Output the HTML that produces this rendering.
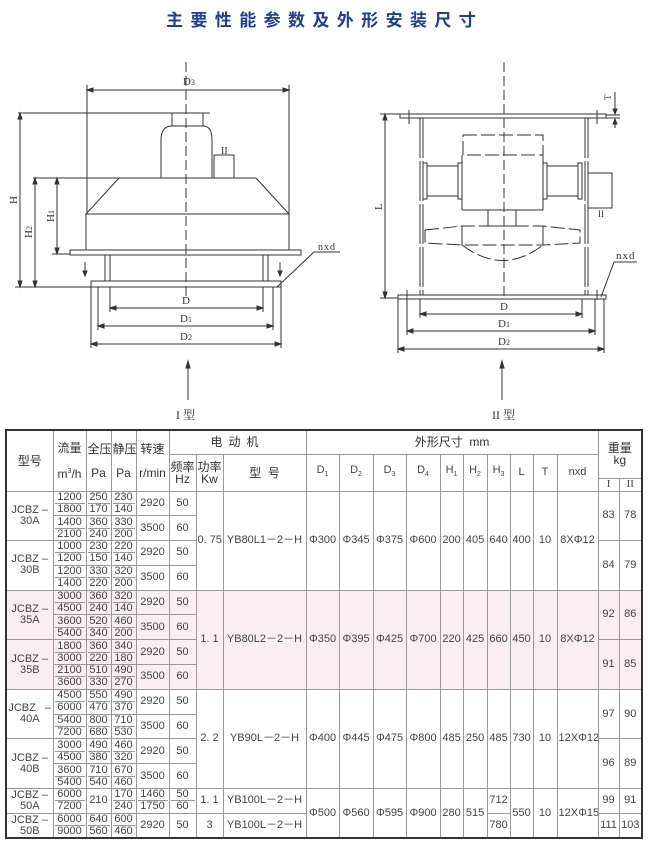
<!DOCTYPE html>
<html><head><meta charset="utf-8"><style>
html,body{margin:0;padding:0;background:#fff;width:650px;height:848px;overflow:hidden;position:relative}
.title{position:absolute;left:166px;top:6px;width:320px;font:bold 17px "Liberation Sans","Noto Sans CJK SC",sans-serif;color:#1f3f8f;letter-spacing:7.4px;white-space:nowrap}
svg{position:absolute;left:0;top:0}
table{position:absolute;left:5px;top:429px;border-collapse:collapse;table-layout:fixed;width:636px;border:2px solid #333;font:11px "Liberation Sans","Noto Sans CJK SC",sans-serif;color:#444}
td{border:1px solid #999;padding:0 1px;text-align:center;vertical-align:middle;line-height:11px;overflow:hidden;white-space:nowrap}
td i{display:block;font-style:normal;border-bottom:1px solid #999;line-height:11px}
tr.d td{height:24.8px;box-sizing:border-box}
.p td{background:#fbeef3}
.h{font-size:12px;color:#333;line-height:12px}
</style></head><body>
<div class="title">主要性能参数及外形安装尺寸</div>
<svg width="650" height="430" viewBox="0 0 650 430" fill="none" stroke="#333" stroke-width="1" font-family="Liberation Serif,serif" font-size="11">
<line x1="186" y1="62" x2="186" y2="300" stroke-dasharray="10,4"/>
<line x1="87" y1="85" x2="87" y2="213"/><line x1="289" y1="85" x2="289" y2="213"/>
<line x1="87" y1="90" x2="289" y2="90"/>
<path d="M87 90l6-2v4zM289 90l-6-2v4z" fill="#333"/>
<text x="183" y="85" fill="#333" stroke="none">D<tspan font-size="8">3</tspan></text>
<line x1="18" y1="113" x2="210" y2="113"/>
<rect x="172" y="113" width="31" height="13"/>
<path d="M161 178V140q0-14 11-14h31q9 0 9 14v38"/>
<rect x="214" y="155" width="20" height="23"/>
<text x="221" y="154" fill="#333" stroke="none" font-size="10">II</text>
<line x1="33" y1="178" x2="256" y2="178"/>
<path d="M119 178L86 214H289L256 178"/>
<line x1="86" y1="214" x2="86" y2="250"/><line x1="289" y1="214" x2="289" y2="250"/>
<rect x="70" y="250" width="231" height="5"/>
<line x1="52" y1="254" x2="70" y2="254"/>
<line x1="105" y1="255" x2="105" y2="281"/><line x1="110" y1="255" x2="110" y2="281"/>
<line x1="263" y1="255" x2="263" y2="281"/><line x1="268" y1="255" x2="268" y2="281"/>
<rect x="91" y="281" width="190" height="6"/>
<line x1="15" y1="287" x2="91" y2="287"/>
<line x1="20" y1="113" x2="20" y2="287"/><path d="M20 113l-2 6h4zM20 287l-2-6h4z" fill="#333"/>
<line x1="35" y1="178" x2="35" y2="287"/><path d="M35 178l-2 6h4zM35 287l-2-6h4z" fill="#333"/>
<line x1="57" y1="178" x2="57" y2="254"/><path d="M57 178l-2 6h4zM57 254l-2-6h4z" fill="#333"/>
<text x="17" y="204" fill="#333" stroke="none" transform="rotate(-90 17 204)">H</text>
<text x="32" y="238" fill="#333" stroke="none" transform="rotate(-90 32 238)">H<tspan font-size="8">2</tspan></text>
<text x="54" y="222" fill="#333" stroke="none" transform="rotate(-90 54 222)">H<tspan font-size="8">1</tspan></text>
<line x1="85" y1="262" x2="85" y2="275"/><path d="M85 276l-2-5h4z" fill="#333"/>
<line x1="280" y1="262" x2="280" y2="275"/><path d="M280 276l-2-5h4z" fill="#333"/>
<line x1="110" y1="287" x2="110" y2="312"/><line x1="263" y1="287" x2="263" y2="312"/>
<line x1="98" y1="287" x2="98" y2="330"/><line x1="273" y1="287" x2="273" y2="330"/>
<line x1="91" y1="287" x2="91" y2="348"/><line x1="281" y1="287" x2="281" y2="348"/>
<line x1="110" y1="308" x2="263" y2="308"/><path d="M110 308l6-2v4zM263 308l-6-2v4z" fill="#333"/>
<line x1="98" y1="326" x2="273" y2="326"/><path d="M98 326l6-2v4zM273 326l-6-2v4z" fill="#333"/>
<line x1="91" y1="344" x2="281" y2="344"/><path d="M91 344l6-2v4zM281 344l-6-2v4z" fill="#333"/>
<text x="182" y="304" fill="#333" stroke="none">D</text>
<text x="180" y="322" fill="#333" stroke="none">D<tspan font-size="8">1</tspan></text>
<text x="180" y="340" fill="#333" stroke="none">D<tspan font-size="8">2</tspan></text>
<text x="318" y="250" fill="#333" stroke="none" font-size="10" letter-spacing="1">nxd</text>
<line x1="314" y1="252" x2="340" y2="252"/><line x1="314" y1="252" x2="277" y2="287"/>
<line x1="188" y1="400" x2="188" y2="363"/><path d="M188 361l-2 7h4z" fill="#333"/>
<text x="176" y="419" fill="#333" stroke="none" font-family="Liberation Serif,Noto Serif CJK SC,serif" font-size="12">I 型</text>
<line x1="504" y1="62" x2="504" y2="300" stroke-dasharray="10,4"/>
<rect x="400" y="114" width="206" height="4"/>
<line x1="380" y1="114" x2="400" y2="114"/>
<line x1="409" y1="110" x2="409" y2="124"/><line x1="597" y1="110" x2="597" y2="124"/>
<line x1="420" y1="118" x2="420" y2="295" stroke-dasharray="40,3"/><line x1="423" y1="118" x2="423" y2="295" stroke-dasharray="40,3"/>
<line x1="585" y1="118" x2="585" y2="295" stroke-dasharray="40,3"/><line x1="588" y1="118" x2="588" y2="295" stroke-dasharray="40,3"/>
<rect x="398" y="295" width="208" height="4"/>
<line x1="380" y1="298" x2="398" y2="298"/>
<line x1="407" y1="290" x2="407" y2="300"/><line x1="597" y1="290" x2="597" y2="300"/>
<line x1="385" y1="114" x2="385" y2="298"/><path d="M385 114l-2 6h4zM385 298l-2-6h4z" fill="#333"/>
<text x="382" y="210" fill="#333" stroke="none" transform="rotate(-90 382 210)">L</text>
<line x1="606" y1="115" x2="620" y2="115"/><line x1="606" y1="118" x2="620" y2="118"/>
<line x1="615" y1="92" x2="615" y2="114"/><path d="M615 114l-2-5h4z" fill="#333"/>
<line x1="615" y1="119" x2="615" y2="128"/><path d="M615 119l-2 5h4z" fill="#333"/>
<text x="605" y="100" fill="#333" stroke="none" font-size="9" transform="rotate(-90 608 97)">T</text>
<rect x="463" y="135" width="80" height="20" stroke-dasharray="14,4"/>
<line x1="462" y1="155" x2="462" y2="210"/><line x1="543" y1="155" x2="543" y2="210"/>
<line x1="462" y1="210" x2="543" y2="210"/>
<rect x="423" y="163" width="4" height="36"/><rect x="458" y="163" width="4" height="36"/>
<line x1="427" y1="166" x2="458" y2="166"/><line x1="427" y1="196" x2="458" y2="196"/>
<rect x="543" y="163" width="4" height="36"/><rect x="578" y="163" width="4" height="36"/>
<line x1="547" y1="166" x2="578" y2="166"/><line x1="547" y1="196" x2="578" y2="196"/>
<rect x="588" y="173" width="24" height="35"/>
<text x="598" y="217" fill="#333" stroke="none" font-size="9">II</text>
<rect x="488" y="210" width="28" height="16"/>
<path d="M425 230L462 226H543L580 230V243L543 245H462L425 243Z" stroke-dasharray="14,4"/>
<line x1="462" y1="226" x2="462" y2="245"/><line x1="543" y1="226" x2="543" y2="245"/>
<path d="M462 245Q503 276 543 245" stroke-dasharray="14,4"/>
<line x1="420" y1="299" x2="420" y2="318"/><line x1="582" y1="299" x2="582" y2="318"/>
<line x1="407" y1="299" x2="407" y2="335"/><line x1="595" y1="299" x2="595" y2="335"/>
<line x1="398" y1="299" x2="398" y2="353"/><line x1="604" y1="299" x2="604" y2="353"/>
<line x1="420" y1="314" x2="582" y2="314"/><path d="M420 314l6-2v4zM582 314l-6-2v4z" fill="#333"/>
<line x1="407" y1="331" x2="595" y2="331"/><path d="M407 331l6-2v4zM595 331l-6-2v4z" fill="#333"/>
<line x1="398" y1="349" x2="604" y2="349"/><path d="M398 349l6-2v4zM604 349l-6-2v4z" fill="#333"/>
<text x="500" y="310" fill="#333" stroke="none">D</text>
<text x="498" y="327" fill="#333" stroke="none">D<tspan font-size="8">1</tspan></text>
<text x="498" y="345" fill="#333" stroke="none">D<tspan font-size="8">2</tspan></text>
<text x="616" y="259" fill="#333" stroke="none" font-size="11" letter-spacing="1">nxd</text>
<line x1="614" y1="262" x2="637" y2="262"/><line x1="614" y1="262" x2="601" y2="297"/>
<line x1="502" y1="400" x2="502" y2="363"/><path d="M502 361l-2 7h4z" fill="#333"/>
<text x="492" y="419" fill="#333" stroke="none" font-family="Liberation Serif,Noto Serif CJK SC,serif" font-size="12">II 型</text>
</svg>
<table>
<colgroup><col style="width:47px"><col style="width:33px"><col style="width:25px"><col style="width:25px"><col style="width:33px"><col style="width:27px"><col style="width:27px"><col style="width:83px"><col style="width:33px"><col style="width:34px"><col style="width:33px"><col style="width:34px"><col style="width:23px"><col style="width:24px"><col style="width:23px"><col style="width:23px"><col style="width:24px"><col style="width:41px"><col style="width:21px"><col style="width:23px"></colgroup>
<tr style="height:24px"><td rowspan="3" class="h">型号</td><td rowspan="3" class="h">流量<br><br>m<sup style="font-size:7px">3</sup>/h</td><td rowspan="3" class="h">全压<br><br>Pa</td><td rowspan="3" class="h">静压<br><br>Pa</td><td rowspan="3" class="h">转速<br><br>r/min</td><td colspan="3" class="h" style="letter-spacing:6px">电动机</td><td colspan="10" class="h">外形尺寸&nbsp; mm</td><td colspan="2" rowspan="2" class="h">重量<br>kg</td></tr>
<tr style="height:24px"><td rowspan="2" class="h">频率<br>Hz</td><td rowspan="2" class="h">功率<br>Kw</td><td rowspan="2" class="h">型&nbsp; 号</td><td rowspan="2">D<sub style="font-size:7px">1</sub></td><td rowspan="2">D<sub style="font-size:7px">2</sub></td><td rowspan="2">D<sub style="font-size:7px">3</sub></td><td rowspan="2">D<sub style="font-size:7px">4</sub></td><td rowspan="2">H<sub style="font-size:7px">1</sub></td><td rowspan="2">H<sub style="font-size:7px">2</sub></td><td rowspan="2">H<sub style="font-size:7px">3</sub></td><td rowspan="2">L</td><td rowspan="2">T</td><td rowspan="2">nxd</td></tr>
<tr style="height:13px"><td style="font-family:Liberation Serif,serif">I</td><td style="font-family:Liberation Serif,serif">II</td></tr>
<tr class="d"><td rowspan="2">JCBZ –<br>30A</td><td><i>1200</i>1800</td><td><i>250</i>170</td><td><i>230</i>140</td><td>2920</td><td>50</td><td rowspan="4">0. 75</td><td rowspan="4">YB80L1－2－H</td><td rowspan="4">Φ300</td><td rowspan="4">Φ345</td><td rowspan="4">Φ375</td><td rowspan="4">Φ600</td><td rowspan="4">200</td><td rowspan="4">405</td><td rowspan="4">640</td><td rowspan="4">400</td><td rowspan="4">10</td><td rowspan="4">8XΦ12</td><td rowspan="2">83</td><td rowspan="2">78</td></tr>
<tr class="d"><td><i>1400</i>2100</td><td><i>360</i>240</td><td><i>330</i>200</td><td>3500</td><td>60</td></tr>
<tr class="d"><td rowspan="2">JCBZ –<br>30B</td><td><i>1000</i>1200</td><td><i>230</i>150</td><td><i>220</i>140</td><td>2920</td><td>50</td><td rowspan="2">84</td><td rowspan="2">79</td></tr>
<tr class="d"><td><i>1200</i>1400</td><td><i>330</i>220</td><td><i>320</i>200</td><td>3500</td><td>60</td></tr>
<tr class="d p"><td rowspan="2">JCBZ –<br>35A</td><td><i>3000</i>4500</td><td><i>360</i>240</td><td><i>320</i>140</td><td>2920</td><td>50</td><td rowspan="4">1. 1</td><td rowspan="4">YB80L2－2－H</td><td rowspan="4">Φ350</td><td rowspan="4">Φ395</td><td rowspan="4">Φ425</td><td rowspan="4">Φ700</td><td rowspan="4">220</td><td rowspan="4">425</td><td rowspan="4">660</td><td rowspan="4">450</td><td rowspan="4">10</td><td rowspan="4">8XΦ12</td><td rowspan="2">92</td><td rowspan="2">86</td></tr>
<tr class="d p"><td><i>3600</i>5400</td><td><i>520</i>340</td><td><i>460</i>200</td><td>3500</td><td>60</td></tr>
<tr class="d p"><td rowspan="2">JCBZ –<br>35B</td><td><i>1800</i>3000</td><td><i>360</i>220</td><td><i>340</i>180</td><td>2920</td><td>50</td><td rowspan="2">91</td><td rowspan="2">85</td></tr>
<tr class="d p"><td><i>2100</i>3600</td><td><i>510</i>330</td><td><i>490</i>270</td><td>3500</td><td>60</td></tr>
<tr class="d"><td rowspan="2">JCBZ&nbsp;&nbsp; –<br>40A</td><td><i>4500</i>6000</td><td><i>550</i>470</td><td><i>490</i>370</td><td>2920</td><td>50</td><td rowspan="4">2. 2</td><td rowspan="4">YB90L－2－H</td><td rowspan="4">Φ400</td><td rowspan="4">Φ445</td><td rowspan="4">Φ475</td><td rowspan="4">Φ800</td><td rowspan="4">485</td><td rowspan="4">250</td><td rowspan="4">485</td><td rowspan="4">730</td><td rowspan="4">10</td><td rowspan="4">12XΦ12</td><td rowspan="2">97</td><td rowspan="2">90</td></tr>
<tr class="d"><td><i>5400</i>7200</td><td><i>800</i>680</td><td><i>710</i>530</td><td>3500</td><td>60</td></tr>
<tr class="d"><td rowspan="2">JCBZ –<br>40B</td><td><i>3000</i>4500</td><td><i>490</i>380</td><td><i>460</i>320</td><td>2920</td><td>50</td><td rowspan="2">96</td><td rowspan="2">89</td></tr>
<tr class="d"><td><i>3600</i>5400</td><td><i>710</i>540</td><td><i>670</i>460</td><td>3500</td><td>60</td></tr>
<tr class="d"><td>JCBZ –<br>50A</td><td><i>6000</i>7200</td><td>210</td><td><i>170</i>240</td><td><i>1460</i>1750</td><td><i>50</i>60</td><td>1. 1</td><td>YB100L－2－H</td><td rowspan="2">Φ500</td><td rowspan="2">Φ560</td><td rowspan="2">Φ595</td><td rowspan="2">Φ900</td><td rowspan="2">280</td><td rowspan="2">515</td><td>712</td><td rowspan="2">550</td><td rowspan="2">10</td><td rowspan="2">12XΦ15</td><td>99</td><td>91</td></tr>
<tr class="d"><td>JCBZ –<br>50B</td><td><i>6000</i>9000</td><td><i>640</i>560</td><td><i>600</i>460</td><td>2920</td><td>50</td><td>3</td><td>YB100L－2－H</td><td>780</td><td>111</td><td>103</td></tr>
</table>
</body></html>
